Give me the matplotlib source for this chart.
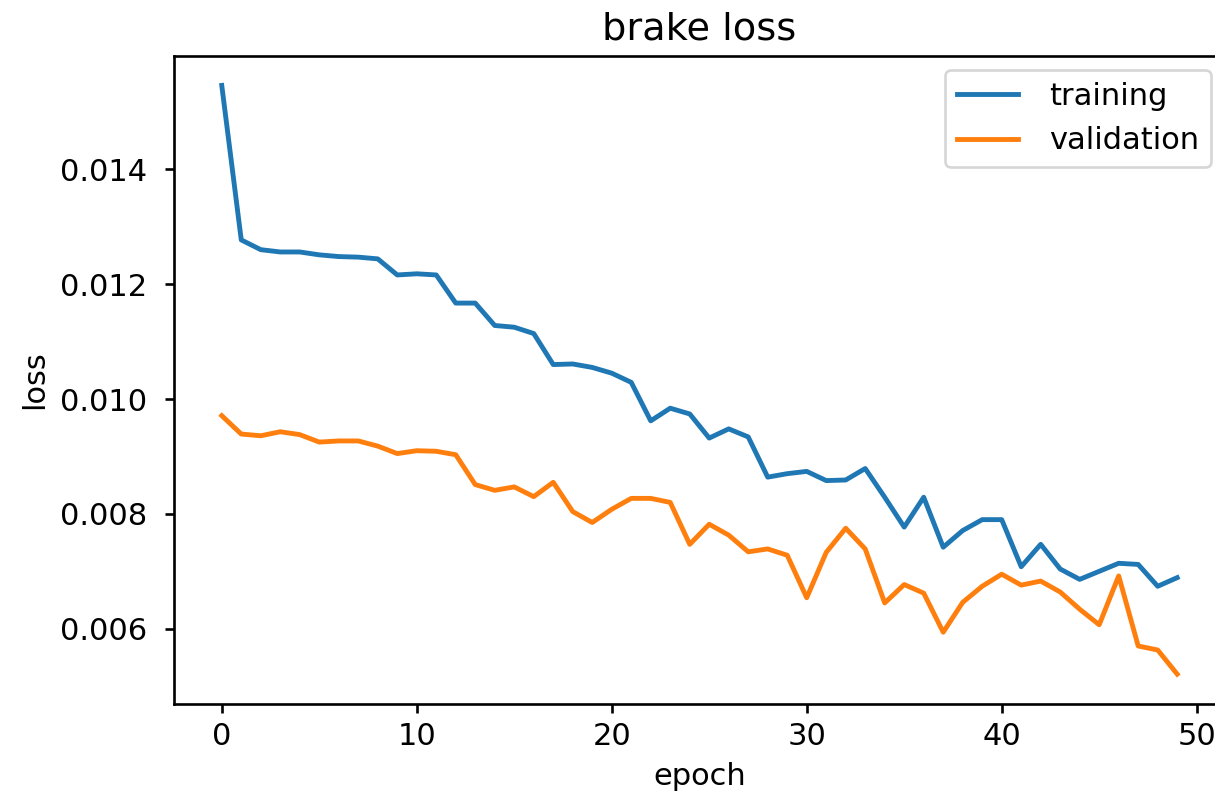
import matplotlib
matplotlib.use("Agg")
import matplotlib.pyplot as plt

epochs = list(range(50))
training = [0.01546, 0.01277, 0.01260, 0.01256, 0.01256, 0.01251, 0.01248, 0.01247, 0.01244, 0.01216,
            0.01218, 0.01216, 0.01167, 0.01167, 0.01128, 0.01125, 0.01114, 0.01060, 0.01061, 0.01055,
            0.01045, 0.01029, 0.00962, 0.00984, 0.00974, 0.00932, 0.00948, 0.00934, 0.00864, 0.00870,
            0.00874, 0.00858, 0.00859, 0.00879, 0.00829, 0.00777, 0.00829, 0.00742, 0.00771, 0.00790,
            0.00790, 0.00708, 0.00747, 0.00704, 0.00686, 0.00700, 0.00714, 0.00712, 0.00674, 0.00689]
validation = [0.00971, 0.00939, 0.00936, 0.00943, 0.00938, 0.00925, 0.00927, 0.00927, 0.00918, 0.00905,
              0.00910, 0.00909, 0.00903, 0.00851, 0.00841, 0.00847, 0.00830, 0.00855, 0.00804, 0.00785,
              0.00808, 0.00827, 0.00827, 0.00820, 0.00747, 0.00782, 0.00763, 0.00734, 0.00739, 0.00728,
              0.00654, 0.00733, 0.00775, 0.00739, 0.00645, 0.00677, 0.00662, 0.00594, 0.00646, 0.00674,
              0.00695, 0.00676, 0.00683, 0.00664, 0.00634, 0.00607, 0.00692, 0.00570, 0.00563, 0.00521]
series_labels = ["training", "validation"]
title = "brake loss"
xlabel = "epoch"
ylabel = "loss"

fig = plt.figure(figsize=(12.15, 7.95), dpi=100)
ax = fig.add_axes([0.1432, 0.1150, 0.8650, 0.8146])

lw = 3.5
ax.plot(epochs, training, color="#1f77b4", lw=lw, label=series_labels[0])
ax.plot(epochs, validation, color="#ff7f0e", lw=lw, label=series_labels[1])

fs = 22
ax.set_title(title, fontsize=27.5, pad=12)
ax.set_xlabel(xlabel, fontsize=fs, labelpad=8)
ax.set_ylabel(ylabel, fontsize=fs, labelpad=8)
ax.tick_params(labelsize=fs, length=6.5, width=1.9)
ax.tick_params(axis="x", pad=7)
ax.tick_params(axis="y", pad=12.5)
for s in ax.spines.values():
    s.set_linewidth(1.9)
ax.spines["right"].set_visible(False)
ax.set_xticks([0, 10, 20, 30, 40, 50])
ax.set_yticks([0.006, 0.008, 0.010, 0.012, 0.014])
ax.set_yticklabels(["0.006", "0.008", "0.010", "0.012", "0.014"])

leg = ax.legend(loc="upper right", fontsize=fs, borderaxespad=0.45, handlelength=2.0,
                handletextpad=1.0)
leg.get_frame().set_linewidth(1.9)

fig.savefig("out.png", dpi=100)
